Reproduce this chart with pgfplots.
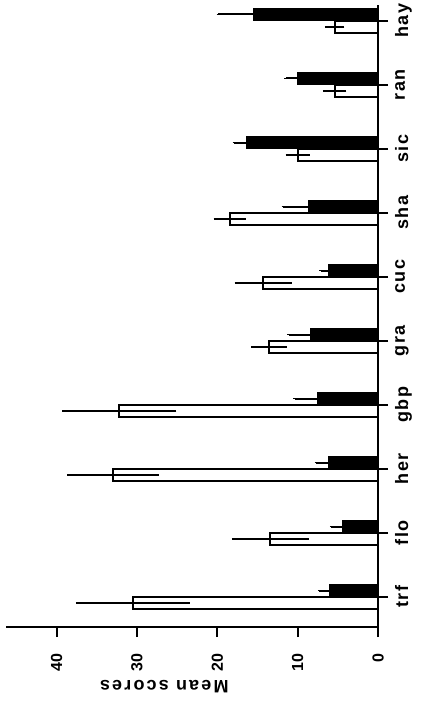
\documentclass[border=0pt]{standalone}
\usepackage{fontspec}
\setmainfont{Liberation Sans}
\newfontfamily\lblfont[LetterSpace=8]{Liberation Sans}
\newfontfamily\titlefont[LetterSpace=12]{Liberation Sans}
\usepackage{pgfplots}
\pgfplotsset{compat=1.18}
\begin{document}
\begin{tikzpicture}
\begin{axis}[
  at={(0,0)}, anchor=south west,
  scale only axis, width=186pt, height=311pt,
  xmin=0, xmax=46.3, x dir=reverse,
  ymin=-0.47, ymax=9.245,
  axis x line*=bottom, axis y line*=right,
  axis line style={line width=1pt},
  xtick={0,10,20,30,40},
  ytick={0,...,9},
  yticklabels={trf,flo,her,gbp,gra,cuc,sha,sic,ran,hay},
  tick align=outside,
  major tick length=5pt,
  tick style={line width=1pt, black},
  /pgf/number format/assume math mode=true,
  xticklabel shift=5pt,
  xticklabel style={rotate=90, anchor=east, font=\bfseries\fontsize{8}{9}\selectfont},
  yticklabel style={rotate=90, anchor=north, font=\lblfont\bfseries\fontsize{9}{10}\selectfont},
  bar width=6.25pt,
  clip=false,
]
\addplot[xbar, bar shift=0pt, fill=black, draw=black, line width=0.6pt,
  error bars/.cd, x dir=both, x explicit,
  error bar style={line width=1pt, black},
  error mark options={line width=0.8pt, mark size=0.8pt}]
coordinates {
(6.0,0.097) +- (1.3,0)
(4.35,1.097) +- (1.45,0)
(6.2,2.097) +- (1.5,0)
(7.46,3.097) +- (2.9,0)
(8.4,4.097) +- (2.7,0)
(6.1,5.097) +- (1.0,0)
(8.6,6.097) +- (3.2,0)
(16.4,7.097) +- (1.5,0)
(9.95,8.097) +- (1.5,0)
(15.5,9.097) +- (4.4,0)
};
\addplot[xbar, bar shift=0pt, fill=white, draw=black, line width=1pt,
  error bars/.cd, x dir=both, x explicit,
  error bar style={line width=1pt, black},
  error mark options={line width=0.8pt, mark size=0.8pt}]
coordinates {
(30.5,-0.097) +- (6.9,0)
(13.4,0.903) +- (4.6,0)
(33.0,1.903) +- (5.5,0)
(32.2,2.903) +- (6.9,0)
(13.56,3.903) +- (2.0,0)
(14.3,4.903) +- (3.35,0)
(18.45,5.903) +- (1.8,0)
(10.0,6.903) +- (1.3,0)
(5.4,7.903) +- (1.25,0)
(5.4,8.903) +- (1.0,0)
};
\node[rotate=180, font=\titlefont\bfseries\fontsize{9}{10}\selectfont]
  at ([yshift=-30pt]axis cs:26.6,-0.47) {Mean scores};
\end{axis}
\pgfresetboundingbox
\path (-3pt,-39.5pt) rectangle (212pt,313.5pt);
\end{tikzpicture}
\end{document}
